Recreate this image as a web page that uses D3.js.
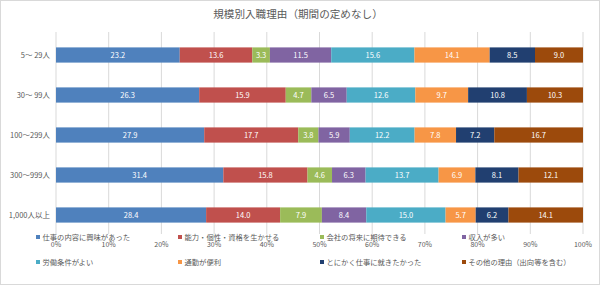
<!DOCTYPE html>
<html>
<head>
<meta charset="utf-8">
<script src="https://cdn.jsdelivr.net/npm/d3@7"></script>
<style>
  body { margin: 0; background: #fff; }
  svg { display: block; font-family: "Noto Sans CJK JP", "Noto Sans", sans-serif; }
</style>
</head>
<body>
<svg id="chart" width="600" height="285"></svg>
<script>
// categories (company size) and reasons (series)
const categories = ["5～ 29人", "30～ 99人", "100～299人", "300～999人", "1,000人以上"];
const reasons = [
  "仕事の内容に興味があった",
  "能力・個性・資格を生かせる",
  "会社の将来に期待できる",
  "収入が多い",
  "労働条件がよい",
  "通勤が便利",
  "とにかく仕事に就きたかった",
  "その他の理由（出向等を含む）"
];
const colors = ["#4F81BD", "#C0504D", "#9BBB59", "#8064A2", "#4BACC6", "#F79646", "#213F70", "#9C4A0C"];

// values per series, one per category (percent)
const interest = [23.2, 26.3, 27.9, 31.4, 28.4];
const ability = [13.6, 15.9, 17.7, 15.8, 14.0];
const future = [3.3, 4.7, 3.8, 4.6, 7.9];
const income = [11.5, 6.5, 5.9, 6.3, 8.4];
const conditions = [15.6, 12.6, 12.2, 13.7, 15.0];
const commute = [14.1, 9.7, 7.8, 6.9, 5.7];
const anyJob = [8.5, 10.8, 7.2, 8.1, 6.2];
const other = [9.0, 10.3, 16.7, 12.1, 14.1];
const ticks = [0, 10, 20, 30, 40, 50, 60, 70, 80, 90, 100];

const seriesValues = [interest, ability, future, income, conditions, commute, anyJob, other];

const rows = categories.map((c, i) => {
  const r = { cat: c };
  reasons.forEach((k, j) => r[k] = seriesValues[j][i]);
  return r;
});

const svg = d3.select("#chart");

// outer border
svg.append("rect")
  .attr("x", 0.5).attr("y", 0.5)
  .attr("width", 599).attr("height", 284)
  .attr("fill", "#fff").attr("stroke", "#d9d9d9");

// title
svg.append("text")
  .attr("x", 298).attr("y", 18)
  .attr("text-anchor", "middle")
  .attr("font-size", 10.6)
  .attr("fill", "#595959")
  .text("規模別入職理由（期間の定めなし）");

// 100% stacked: x in fraction of total
const x = d3.scaleLinear().domain([0, 1]).range([56, 583]);
const y = d3.scaleBand().domain(categories).range([35, 235]).paddingInner(0.62).paddingOuter(0.31);

// gridlines
svg.append("g")
  .selectAll("line")
  .data(ticks)
  .join("line")
  .attr("x1", d => x(d / 100)).attr("x2", d => x(d / 100))
  .attr("y1", 32).attr("y2", 234)
  .attr("stroke", "#d9d9d9").attr("stroke-width", 1);

// stacked bars
const stack = d3.stack().keys(reasons).offset(d3.stackOffsetExpand)(rows);

const layers = svg.append("g")
  .selectAll("g")
  .data(stack)
  .join("g")
  .attr("fill", (d, i) => colors[i]);

layers.selectAll("rect")
  .data(d => d)
  .join("rect")
  .attr("x", d => x(d[0]))
  .attr("y", d => y(d.data.cat))
  .attr("width", d => x(d[1]) - x(d[0]))
  .attr("height", y.bandwidth());

layers.selectAll("text")
  .data(d => d.map(p => ({ p, key: d.key })))
  .join("text")
  .attr("x", d => (x(d.p[0]) + x(d.p[1])) / 2)
  .attr("y", d => y(d.p.data.cat) + y.bandwidth() / 2 + 3)
  .attr("text-anchor", "middle")
  .attr("font-size", 7.5)
  .attr("fill", "#fff")
  .text(d => d.p.data[d.key].toFixed(1));

// category labels
svg.append("g")
  .selectAll("text")
  .data(categories)
  .join("text")
  .attr("x", 50)
  .attr("y", d => y(d) + y.bandwidth() / 2 + 3)
  .attr("text-anchor", "end")
  .attr("font-size", 7.5)
  .attr("fill", "#595959")
  .text(d => d);

// x tick labels
svg.append("g")
  .selectAll("text")
  .data(ticks)
  .join("text")
  .attr("x", d => x(d / 100))
  .attr("y", 247)
  .attr("text-anchor", "middle")
  .attr("font-size", 7)
  .attr("fill", "#595959")
  .text(d => d + "%");

// legend, 4 columns x 2 rows
const legCols = [36, 178, 320, 462];
const legRows = [238, 263];
const leg = svg.append("g")
  .selectAll("g")
  .data(reasons)
  .join("g")
  .attr("transform", (d, i) => `translate(${legCols[i % 4]},${legRows[Math.floor(i / 4)]})`);

leg.append("rect")
  .attr("x", 0).attr("y", -3)
  .attr("width", 4).attr("height", 4)
  .attr("fill", (d, i) => colors[i]);

leg.append("text")
  .attr("x", 6.5).attr("y", 2)
  .attr("font-size", 7.3)
  .attr("fill", "#595959")
  .text(d => d);
</script>
</body>
</html>
